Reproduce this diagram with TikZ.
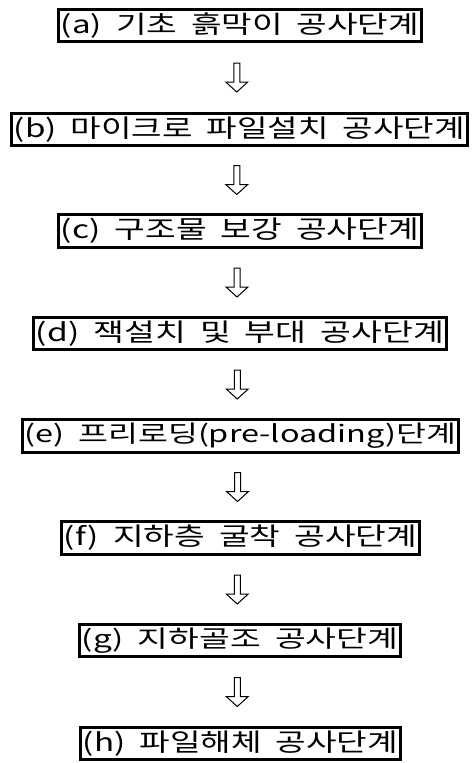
\documentclass[tikz,border=0pt]{standalone}
\usepackage{fontspec}
\setmainfont{Noto Sans CJK KR}
\usepackage{graphicx}
\usetikzlibrary{calc}
\newcommand\hollowdown[2]{%
  \draw[hollowarrow] ($(#1.south)!.5!(#2.north)+(-3,0)$) ++(-3,-14.5)
    -- ++(6,0) -- ++(0,19) -- ++(8,0) -- ++(-11,10) -- ++(-11,-10) -- ++(8,0) -- cycle;}
\newcommand\stagetext[2]{\resizebox*{#1}{25.5pt}{\spaceskip=0.42em\relax #2}}
\begin{document}
\begin{tikzpicture}[x=1pt,y=-1pt,
  stagebox/.style={draw=black, line width=3pt, inner sep=0pt, anchor=center, minimum height=32pt},
  hollowarrow/.style={draw=black, line width=1pt, fill=white, line join=miter}]
\useasboundingbox[fill=white] (0,0) rectangle (473,763);
\node[stagebox, minimum width=363pt] (a) at (240,25.5) {\stagetext{358pt}{(a) 기초 흙막이 공사단계}};
\node[stagebox, minimum width=456pt] (b) at (239.5,129.5) {\stagetext{451pt}{(b) 마이크로 파일설치 공사단계}};
\node[stagebox, minimum width=363pt, minimum height=33pt] (c) at (240,231) {\stagetext{358pt}{(c) 구조물 보강 공사단계}};
\node[stagebox, minimum width=413pt] (d) at (240,333.5) {\stagetext{408pt}{(d) 잭설치 및 부대 공사단계}};
\node[stagebox, minimum width=436pt, minimum height=33pt] (e) at (240.5,436) {\stagetext{431pt}{(e) 프리로딩(pre-loading)단계}};
\node[stagebox, minimum width=358pt, minimum height=33pt] (f) at (240.5,538) {\stagetext{353pt}{(f) 지하층 굴착 공사단계}};
\node[stagebox, minimum width=321pt] (g) at (240,640.5) {\stagetext{316pt}{(g) 지하골조 공사단계}};
\node[stagebox, minimum width=320pt] (h) at (240.5,743.5) {\stagetext{315pt}{(h) 파일해체 공사단계}};
\hollowdown{a}{b}
\hollowdown{b}{c}
\hollowdown{c}{d}
\hollowdown{d}{e}
\hollowdown{e}{f}
\hollowdown{f}{g}
\hollowdown{g}{h}
\end{tikzpicture}
\end{document}
